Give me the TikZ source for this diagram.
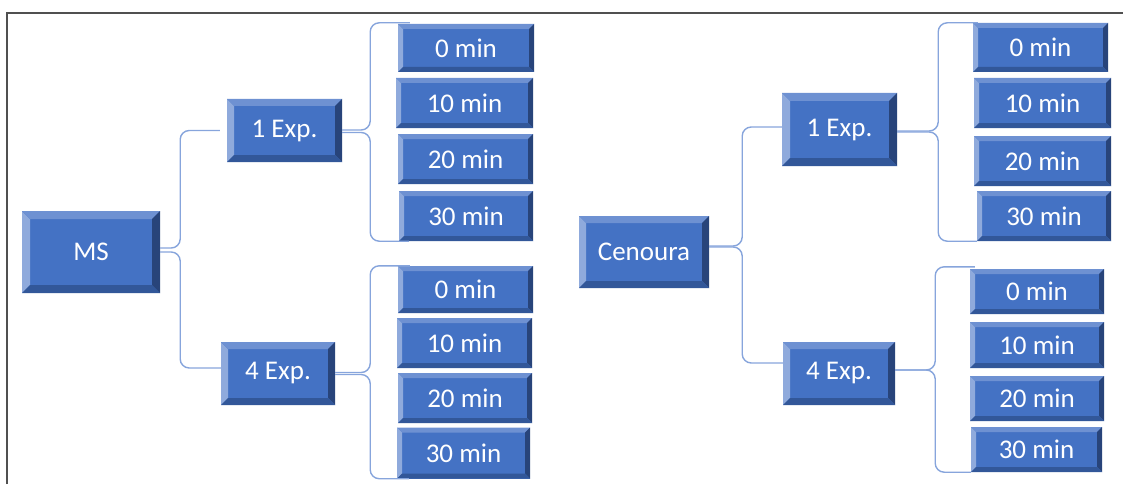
\documentclass[tikz,border=0pt]{standalone}
\usepackage{fontspec}
\setmainfont{Carlito}
\definecolor{boxblue}{RGB}{68,114,196}
\definecolor{bvleft}{RGB}{143,170,220}
\definecolor{bvtop}{RGB}{110,145,210}
\definecolor{bvbottom}{RGB}{50,87,153}
\definecolor{bvright}{RGB}{40,68,122}
\definecolor{connblue}{RGB}{135,165,220}
\definecolor{framegray}{RGB}{80,80,80}
\tikzset{
  bevbox/.style={rectangle, fill=boxblue, text=white, inner sep=0pt,
    font=\fontsize{27}{32}\selectfont,
    path picture={
      \fill[bvleft] (path picture bounding box.north west) -- (path picture bounding box.south west)
        -- ([shift={(#1pt,#1pt)}]path picture bounding box.south west)
        -- ([shift={(#1pt,-#1pt)}]path picture bounding box.north west) -- cycle;
      \fill[bvtop] (path picture bounding box.north west) -- (path picture bounding box.north east)
        -- ([shift={(-#1pt,-#1pt)}]path picture bounding box.north east)
        -- ([shift={(#1pt,-#1pt)}]path picture bounding box.north west) -- cycle;
      \fill[bvright] (path picture bounding box.north east) -- (path picture bounding box.south east)
        -- ([shift={(-#1pt,#1pt)}]path picture bounding box.south east)
        -- ([shift={(-#1pt,-#1pt)}]path picture bounding box.north east) -- cycle;
      \fill[bvbottom] (path picture bounding box.south west) -- (path picture bounding box.south east)
        -- ([shift={(-#1pt,#1pt)}]path picture bounding box.south east)
        -- ([shift={(#1pt,#1pt)}]path picture bounding box.south west) -- cycle;
    }},
  conn/.style={draw=connblue, line width=1.4pt, rounded corners=9pt},
  frameline/.style={draw=framegray, line width=2pt}
}
\begin{document}
\begin{tikzpicture}[x=1pt,y=-1pt]
\useasboundingbox (0,0) rectangle (1123,484);
\draw[frameline] (7,484) -- (7,13) -- (1123,13);

% left tree
\node[bevbox=8, minimum width=138pt, minimum height=82pt] (ms) at (91,252) {MS};
\node[bevbox=7, minimum width=115pt, minimum height=63pt] (l1) at (284.5,130.5) {1 Exp.};
\node[bevbox=7, minimum width=114pt, minimum height=63pt] (l4) at (278,373.5) {4 Exp.};
\node[bevbox=5, minimum width=136pt, minimum height=48pt] (a0) at (466,48) {0 min};
\node[bevbox=5, minimum width=137pt, minimum height=50pt] (a1) at (464.5,103) {10 min};
\node[bevbox=5, minimum width=135pt, minimum height=50pt] (a2) at (465.5,159) {20 min};
\node[bevbox=5, minimum width=134pt, minimum height=50pt] (a3) at (466,216) {30 min};
\node[bevbox=5, minimum width=135pt, minimum height=47pt] (b0) at (465.5,289.5) {0 min};
\node[bevbox=5, minimum width=135pt, minimum height=50pt] (b1) at (464.5,343) {10 min};
\node[bevbox=5, minimum width=134pt, minimum height=50pt] (b2) at (465,398) {20 min};
\node[bevbox=5, minimum width=133pt, minimum height=51pt] (b3) at (463.5,453) {30 min};

% right tree
\node[bevbox=7, minimum width=130pt, minimum height=72pt] (cen) at (644,252) {Cenoura};
\node[bevbox=8, minimum width=115pt, minimum height=73pt] (r1) at (839.5,129.5) {1 Exp.};
\node[bevbox=7, minimum width=112pt, minimum height=63pt] (r4) at (839,373.5) {4 Exp.};
\node[bevbox=5, minimum width=135pt, minimum height=49pt] (c0) at (1040.5,47.5) {0 min};
\node[bevbox=5, minimum width=137pt, minimum height=50pt] (c1) at (1042.5,103) {10 min};
\node[bevbox=5, minimum width=137pt, minimum height=50pt] (c2) at (1042.5,161) {20 min};
\node[bevbox=5, minimum width=134pt, minimum height=50pt] (c3) at (1044,216) {30 min};
\node[bevbox=5, minimum width=134pt, minimum height=45pt] (d0) at (1037,291.5) {0 min};
\node[bevbox=5, minimum width=134pt, minimum height=46pt] (d1) at (1037,345) {10 min};
\node[bevbox=5, minimum width=134pt, minimum height=45pt] (d2) at (1037,398.5) {20 min};
\node[bevbox=5, minimum width=131pt, minimum height=45pt] (d3) at (1036.5,449.5) {30 min};

% connectors, left
\draw[conn] ([yshift=4pt]ms.east) -- ++(20,0) |- ([xshift=-7pt]l1.west);
\draw[conn] (ms.east) -- ++(20,0) |- ([yshift=5.5pt]l4.west);
\draw[conn] ([yshift=0.5pt]l1.east) -- ++(28,0) |- ([xshift=12pt,yshift=1pt]a0.north west);
\draw[conn] ([yshift=-2pt]l1.east) -- ++(28,0) |- ([xshift=10pt]a3.south west);
\draw[conn] ([yshift=1pt]l4.east) -- ++(35,0) |- ([xshift=12pt]b0.north west);
\draw[conn] ([yshift=-1pt]l4.east) -- ++(35,0) |- ([xshift=12pt]b3.south west);

% connectors, right
\draw[conn] ([yshift=6pt]cen.east) -- ++(33,0) |- ([yshift=2.5pt]r1.west);
\draw[conn] ([yshift=5pt]cen.east) -- ++(33,0) |- ([yshift=10.5pt]r4.west);
\draw[conn] ([yshift=-1.5pt]r1.east) -- ++(41,0) |- ([xshift=5pt]c0.north west);
\draw[conn] ([yshift=-2.5pt]r1.east) -- ++(41,0) |- (c3.south west);
\draw[conn] ([yshift=3.5pt]r4.east) -- ++(40,0) |- ([xshift=5pt,yshift=2pt]d0.north west);
\draw[conn] ([yshift=3.5pt]r4.east) -- ++(40,0) |- (d3.south west);
\end{tikzpicture}
\end{document}
